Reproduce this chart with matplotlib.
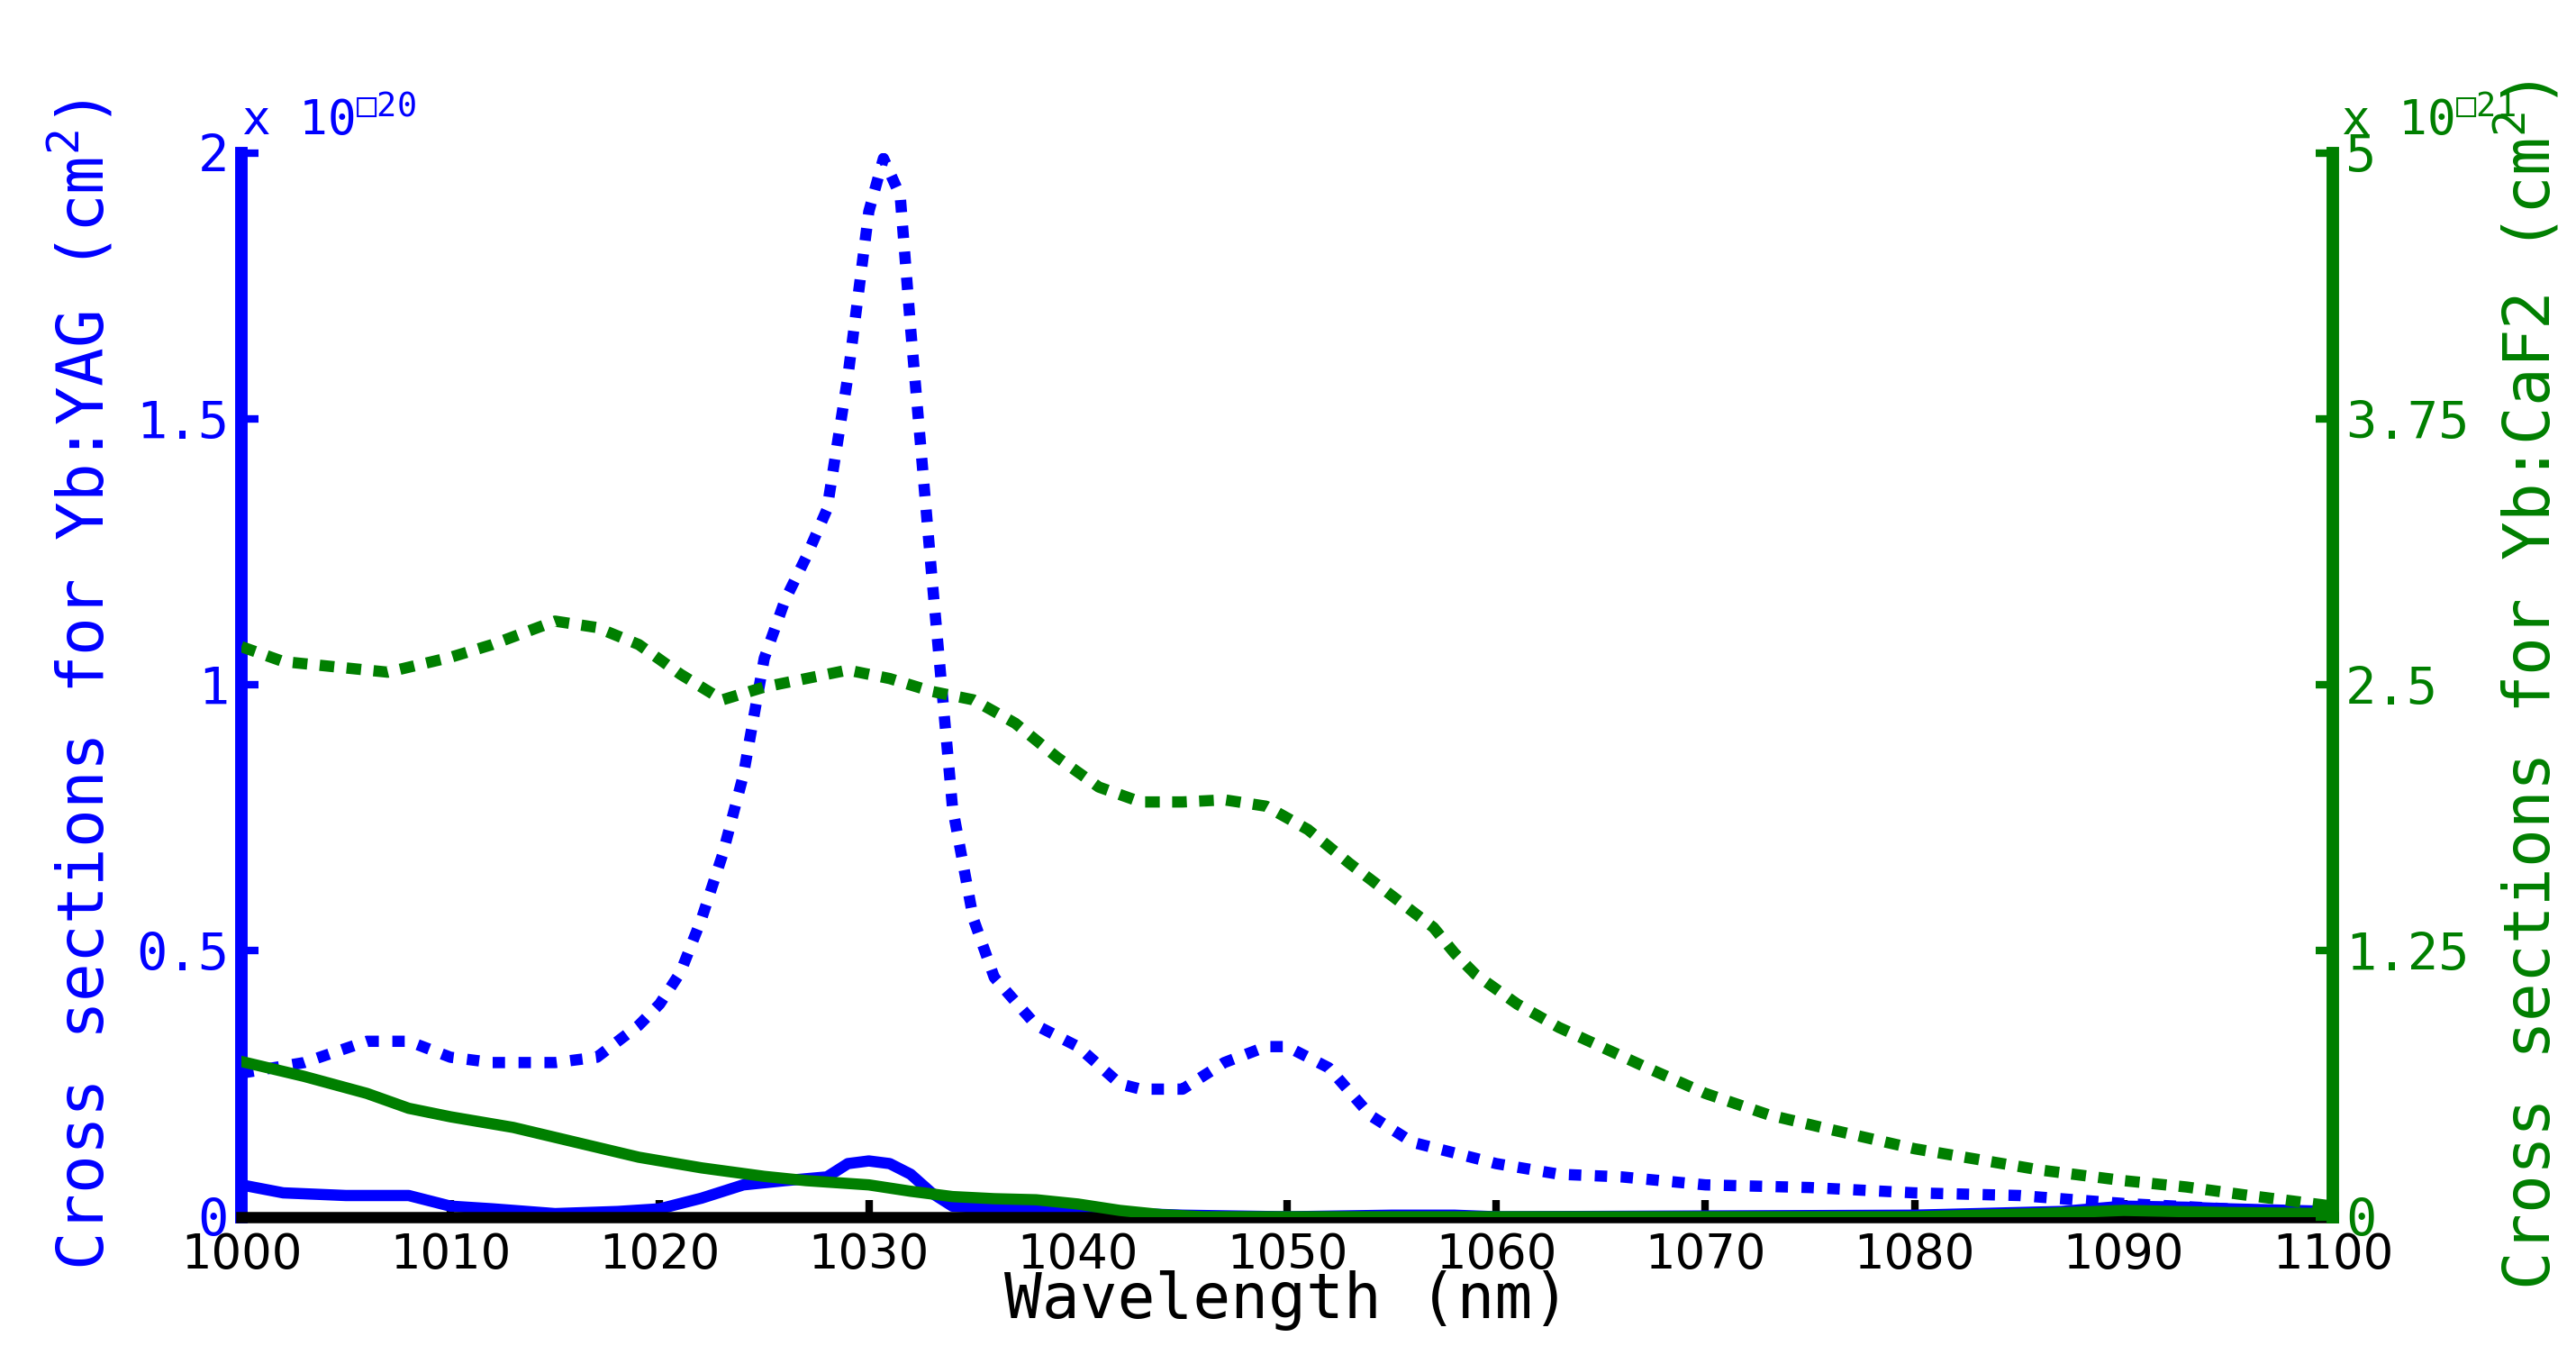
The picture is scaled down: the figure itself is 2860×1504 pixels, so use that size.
import matplotlib.pyplot as plt

plt.rcParams['mathtext.fontset'] = 'custom'
plt.rcParams['mathtext.rm'] = 'DejaVu Sans Mono'
plt.rcParams['mathtext.default'] = 'rm'

BLUE = '#0000ff'
GREEN = '#007f00'

# Yb:YAG emission (left axis, x1e-20 cm^2)
yag_em_wl = [1000, 1003, 1006, 1008, 1010, 1012, 1015, 1017, 1019, 1020, 1021, 1022,
             1023, 1024, 1025, 1026, 1027, 1028, 1029, 1030, 1030.7, 1031.5, 1032,
             1033, 1034, 1035, 1036, 1038, 1040, 1042, 1043, 1045, 1047, 1049, 1050,
             1052, 1054, 1056, 1058, 1060, 1063, 1066, 1070, 1075, 1080, 1085, 1090,
             1095, 1100]
yag_em = [0.27, 0.29, 0.33, 0.33, 0.30, 0.29, 0.29, 0.30, 0.36, 0.40, 0.46, 0.56,
          0.68, 0.83, 1.05, 1.16, 1.24, 1.33, 1.58, 1.89, 1.99, 1.92, 1.67,
          1.21, 0.77, 0.56, 0.45, 0.36, 0.32, 0.25, 0.24, 0.24, 0.29, 0.32, 0.32,
          0.28, 0.19, 0.14, 0.12, 0.10, 0.08, 0.075, 0.06, 0.055, 0.045, 0.04, 0.025,
          0.015, 0.005]

# Yb:YAG absorption (left axis)
yag_abs_wl = [1000, 1002, 1005, 1008, 1010, 1012, 1015, 1018, 1020, 1022, 1024, 1026,
              1028, 1029, 1030, 1031, 1032, 1033, 1034, 1036, 1040, 1045, 1050, 1055,
              1058, 1060, 1080, 1087, 1090, 1093, 1095, 1100]
yag_abs = [0.06, 0.045, 0.04, 0.04, 0.02, 0.015, 0.006, 0.01, 0.015, 0.035, 0.06, 0.068,
           0.075, 0.10, 0.105, 0.10, 0.08, 0.045, 0.02, 0.015, 0.01, 0.003, 0.0, 0.003,
           0.003, 0.0, 0.003, 0.01, 0.02, 0.018, 0.015, 0.01]

# Yb:CaF2 emission (right axis, x1e-21 cm^2)
caf_em_wl = [1000, 1002, 1005, 1007, 1010, 1012, 1015, 1017, 1019, 1021, 1023, 1025,
             1027, 1029, 1031, 1033, 1035, 1037, 1039, 1041, 1043, 1045, 1047, 1049,
             1051, 1053, 1055, 1057, 1058, 1059, 1061, 1063, 1065, 1067, 1070, 1073,
             1076, 1080, 1083, 1086, 1090, 1093, 1096, 1100]
caf_em = [2.68, 2.61, 2.58, 2.56, 2.63, 2.69, 2.80, 2.77, 2.69, 2.55, 2.43, 2.49,
          2.53, 2.57, 2.53, 2.47, 2.43, 2.32, 2.16, 2.02, 1.95, 1.95, 1.96, 1.93,
          1.82, 1.66, 1.51, 1.36, 1.24, 1.14, 1.00, 0.89, 0.80, 0.71, 0.58, 0.48,
          0.41, 0.32, 0.27, 0.22, 0.17, 0.14, 0.10, 0.05]

# Yb:CaF2 absorption (right axis)
caf_abs_wl = [1000, 1003, 1006, 1008, 1010, 1013, 1016, 1019, 1022, 1025, 1027, 1030,
              1032, 1034, 1036, 1038, 1040, 1042, 1044, 1046, 1080, 1086, 1090, 1095,
              1100]
caf_abs = [0.73, 0.66, 0.58, 0.51, 0.47, 0.42, 0.35, 0.28, 0.23, 0.19, 0.17, 0.15,
           0.12, 0.095, 0.085, 0.08, 0.06, 0.03, 0.01, 0.0, 0.0, 0.015, 0.03, 0.02,
           0.015]

x_ticks = list(range(1000, 1101, 10))
left_ticks = [0, 0.5, 1, 1.5, 2]
left_labels = ['0', '0.5', '1', '1.5', '2']
right_ticks = [0, 1.25, 2.5, 3.75, 5]
right_labels = ['0', '1.25', '2.5', '3.75', '5']

fig = plt.figure(figsize=(14.3, 7.52), dpi=200)
ax = fig.add_axes([0.0937, 0.102, 0.8119, 0.785])
ax2 = ax.twinx()

lw = 4.5
ax.plot(yag_em_wl, yag_em, color=BLUE, lw=lw, linestyle=(0, (1.1, 1.2)))
ax.plot(yag_abs_wl, yag_abs, color=BLUE, lw=lw)
ax2.plot(caf_em_wl, caf_em, color=GREEN, lw=lw, linestyle=(0, (1.3, 1.1)))
ax2.plot(caf_abs_wl, caf_abs, color=GREEN, lw=lw)

ax.set_xlim(1000, 1100)
ax.set_ylim(0, 2)
ax2.set_ylim(0, 5)

mono = 'DejaVu Sans Mono'
ax.set_xticks(x_ticks)
ax.set_xticklabels([str(t) for t in x_ticks], fontsize=19, family='DejaVu Sans')
ax.set_yticks(left_ticks)
ax.set_yticklabels(left_labels, fontsize=20.5, family=mono, color=BLUE)
ax2.set_yticks(right_ticks)
ax2.set_yticklabels(right_labels, fontsize=20.5, family=mono, color=GREEN)

ax.tick_params(axis='x', direction='in', length=7, width=3, color='black', pad=6)
ax.tick_params(axis='y', direction='in', length=7, width=3, color=BLUE, pad=5)
ax2.tick_params(axis='y', direction='in', length=7, width=3, color=GREEN, pad=5)

for a in (ax, ax2):
    a.spines['top'].set_visible(False)
ax.spines['right'].set_visible(False)
ax2.spines['left'].set_visible(False)
ax2.spines['bottom'].set_visible(False)
ax.spines['left'].set_color(BLUE)
ax.spines['left'].set_linewidth(5)
ax.spines['bottom'].set_color('black')
ax.spines['bottom'].set_linewidth(4.5)
ax2.spines['right'].set_color(GREEN)
ax2.spines['right'].set_linewidth(5)

ax.set_xlabel('Wavelength (nm)', fontsize=25, family=mono)
ax.xaxis.set_label_coords(0.5, -0.05)
ax.set_ylabel('Cross sections for Yb:YAG (cm$^2$)', fontsize=25.5, family=mono, color=BLUE)
ax.yaxis.set_label_coords(-0.059, 0.5)
ax2.set_ylabel('Cross sections for Yb:CaF2 (cm$^2$)', fontsize=25.5, family=mono, color=GREEN)
ax2.yaxis.set_label_coords(1.077, 0.5)

ax.text(0.0, 1.008, 'x 10$^{\u25a120}$', transform=ax.transAxes, fontsize=19,
        family=mono, color=BLUE, ha='left', va='bottom')
ax2.text(1.004, 1.008, 'x 10$^{\u25a121}$', transform=ax2.transAxes, fontsize=19,
         family=mono, color=GREEN, ha='left', va='bottom')

fig.savefig('out.png', dpi=200, facecolor='white')
